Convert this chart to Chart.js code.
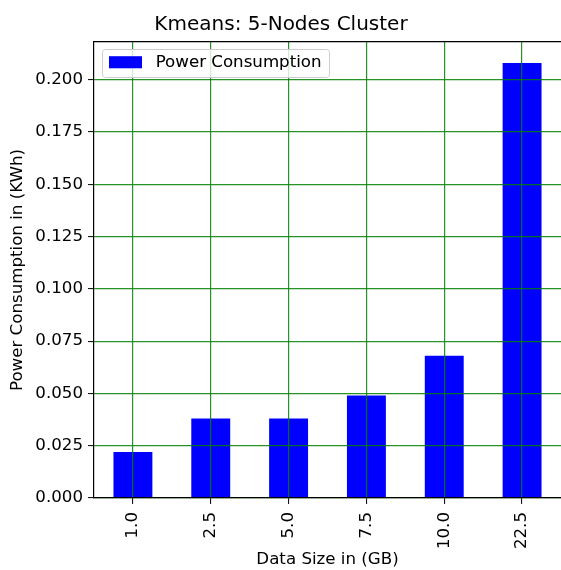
<!DOCTYPE html>
<html>
<head>
<meta charset="utf-8">
<script src="https://cdn.jsdelivr.net/npm/chart.js@4"></script>
<style>
  html, body { margin: 0; padding: 0; background: #ffffff; }
  #wrap { width: 561px; height: 570px; }
</style>
</head>
<body>
<div id="wrap"><canvas id="c" width="561" height="570"></canvas></div>
<script>
const categories = ['1.0', '2.5', '5.0', '7.5', '10.0', '22.5'];
const powerValues = [0.022, 0.038, 0.038, 0.049, 0.068, 0.208];
const yTickValues = [0, 0.025, 0.05, 0.075, 0.1, 0.125, 0.15, 0.175, 0.2];
const seriesLabel = 'Power Consumption';
const chartTitle = 'Kmeans: 5-Nodes Cluster';
const xTitle = 'Data Size in (GB)';
const yTitle = 'Power Consumption in (KWh)';

const FONT = 'DejaVu Sans';
const BASE = 16.67;
const GRID = 'rgba(0,128,0,0.85)';
const LEG_PAD = 15;

const legendFrame = {
  id: 'legendFrame',
  afterLayout(chart) {
    const lg = chart.legend;
    if (!lg) return;
    lg.top = chart.chartArea.top - 3;
    lg.left = chart.chartArea.left;
    lg.bottom = chart.chartArea.bottom;
    lg.right = chart.chartArea.right;
  },
  afterDraw(chart) {
    const lg = chart.legend;
    if (!lg || !lg.legendHitBoxes || !lg.legendHitBoxes.length) return;
    const hb = lg.legendHitBoxes[0];
    const ctx = chart.ctx;
    const itemH = BASE;
    const cx = lg.left + LEG_PAD;
    const cy = lg.top + LEG_PAD + itemH / 2;
    const x0 = Math.round(cx - 7), y0 = Math.round(cy - 13.5);
    const w = Math.round(hb.width + 14), h = 28;
    ctx.save();
    ctx.beginPath();
    ctx.roundRect(x0 + 0.5, y0 + 0.5, w, h, 3);
    ctx.fillStyle = 'rgba(255,255,255,0.8)';
    ctx.fill();
    ctx.strokeStyle = '#cccccc';
    ctx.lineWidth = 1;
    ctx.stroke();
    ctx.restore();
    lg.draw();
  }
};

new Chart(document.getElementById('c'), {
  type: 'bar',
  data: {
    labels: categories,
    datasets: [{
      label: seriesLabel,
      data: powerValues,
      backgroundColor: '#0000ff',
      borderWidth: 0,
      barPercentage: 0.5,
      categoryPercentage: 1.0
    }]
  },
  plugins: [legendFrame],
  options: {
    responsive: false,
    animation: false,
    layout: { padding: { left: 0, right: -1, top: 0, bottom: 0 } },
    plugins: {
      title: {
        display: true,
        text: chartTitle,
        color: '#000000',
        font: { family: FONT, size: 20, weight: 'normal' },
        padding: { top: 13, bottom: 5 }
      },
      legend: {
        position: 'chartArea',
        align: 'start',
        labels: {
          color: '#000000',
          font: { family: FONT, size: BASE },
          boxWidth: 33,
          boxHeight: 12,
          padding: LEG_PAD,
          generateLabels(chart) {
            const items = Chart.defaults.plugins.legend.labels.generateLabels(chart);
            items.forEach(it => { it.text = ' ' + it.text; it.lineWidth = 0; });
            return items;
          }
        }
      },
      tooltip: { enabled: false }
    },
    scales: {
      x: {
        type: 'category',
        position: 'bottom',
        offset: true,
        grid: {
          display: true,
          color: GRID,
          lineWidth: 1.2,
          z: 1,
          offset: false,
          drawTicks: true,
          tickLength: 6,
          tickColor: '#000000',
          tickWidth: 1
        },
        border: { display: true, color: '#000000', width: 1.2, z: 2 },
        ticks: {
          color: '#000000',
          font: { family: FONT, size: BASE },
          minRotation: 90,
          maxRotation: 90,
          padding: 8,
          autoSkip: false
        },
        title: {
          display: true,
          text: xTitle,
          color: '#000000',
          font: { family: FONT, size: BASE },
          padding: { top: 0, bottom: 0 }
        },
        afterFit(scale) { scale.height = 72; }
      },
      x2: {
        type: 'category',
        position: 'top',
        labels: categories,
        grid: { display: false, drawOnChartArea: false, drawTicks: false },
        border: { display: true, color: '#000000', width: 1.2, z: 2 },
        ticks: { display: false },
        afterFit(scale) { scale.height = 0; }
      },
      y: {
        type: 'linear',
        position: 'left',
        min: 0,
        max: 0.218,
        grid: {
          display: true,
          color: GRID,
          lineWidth: 1.2,
          z: 1,
          drawTicks: true,
          tickLength: 6,
          tickColor: '#000000',
          tickWidth: 1
        },
        border: { display: true, color: '#000000', width: 1.2, z: 2 },
        afterBuildTicks(scale) {
          scale.ticks = yTickValues.map(v => ({ value: v }));
        },
        ticks: {
          color: '#000000',
          font: { family: FONT, size: BASE },
          padding: 5,
          callback: (v) => Number(v).toFixed(3)
        },
        title: {
          display: true,
          text: yTitle,
          color: '#000000',
          font: { family: FONT, size: BASE },
          padding: { top: 8, bottom: 0 }
        },
        afterFit(scale) { scale.width = 94; }
      }
    }
  }
});
</script>
</body>
</html>
